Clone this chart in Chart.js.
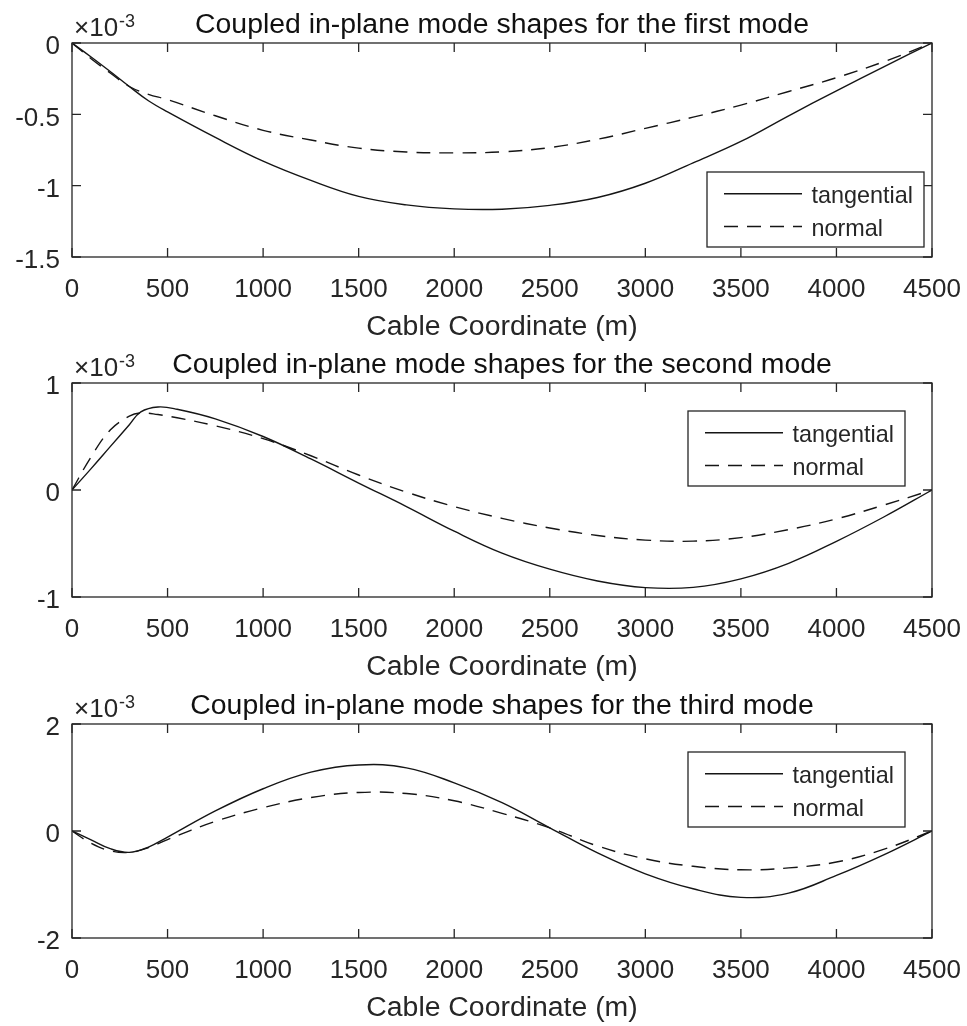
<!DOCTYPE html>
<html>
<head>
<meta charset="utf-8">
<title>Coupled in-plane mode shapes</title>
<script src="https://cdn.jsdelivr.net/npm/chart.js@4.4.1/dist/chart.umd.min.js"></script>
<style>
  html, body { margin: 0; padding: 0; background: #ffffff; }
  body { width: 967px; height: 1026px; position: relative; overflow: hidden; }
  canvas { position: absolute; left: 0; }
</style>
</head>
<body>
<canvas id="mode1" width="967" height="345" style="top:0px"></canvas>
<canvas id="mode2" width="967" height="345" style="top:340px"></canvas>
<canvas id="mode3" width="967" height="345" style="top:681px"></canvas>
<script>
// Cable coordinate samples (m) and mode-shape amplitudes (in units of 1e-3)
const xTicks = [0, 500, 1000, 1500, 2000, 2500, 3000, 3500, 4000, 4500];
const seriesNames = ['tangential', 'normal'];
const xLabel = 'Cable Coordinate (m)';
const exponentLabel = '-3';

// First mode
const x1 = [0, 100, 200, 300, 400, 500, 750, 1000, 1250, 1500, 1750, 2000, 2250, 2500, 2750, 3000, 3250, 3500, 3750, 4000, 4250, 4500];
const tangential1 = [0, -0.098, -0.2, -0.305, -0.405, -0.483, -0.662, -0.828, -0.963, -1.075, -1.135, -1.163, -1.165, -1.138, -1.083, -0.983, -0.84, -0.69, -0.51, -0.335, -0.165, 0];
const normal1 = [0, -0.11, -0.21, -0.305, -0.36, -0.397, -0.51, -0.612, -0.68, -0.737, -0.764, -0.77, -0.763, -0.733, -0.675, -0.598, -0.52, -0.435, -0.34, -0.243, -0.13, 0];
const yTicks1 = [-1.5, -1, -0.5, 0];
const title1 = 'Coupled in-plane mode shapes for the first mode';

// Second mode
const x2 = [0, 100, 200, 300, 360, 450, 550, 750, 1000, 1250, 1500, 1750, 2000, 2250, 2500, 2750, 3000, 3250, 3500, 3750, 4000, 4250, 4500];
const tangential2 = [0, 0.2, 0.405, 0.61, 0.73, 0.776, 0.755, 0.665, 0.5, 0.29, 0.065, -0.155, -0.385, -0.59, -0.74, -0.85, -0.912, -0.91, -0.83, -0.685, -0.48, -0.25, 0];
const normal2 = [0, 0.31, 0.56, 0.69, 0.72, 0.705, 0.675, 0.6, 0.48, 0.32, 0.14, -0.02, -0.155, -0.265, -0.355, -0.425, -0.468, -0.478, -0.445, -0.37, -0.27, -0.14, 0];
const yTicks2 = [-1, 0, 1];
const title2 = 'Coupled in-plane mode shapes for the second mode';

// Third mode
const x3 = [0, 100, 200, 300, 400, 500, 750, 1000, 1250, 1500, 1750, 2000, 2250, 2500, 2750, 3000, 3250, 3500, 3750, 4000, 4250, 4500];
const tangential3 = [0, -0.165, -0.33, -0.4, -0.3, -0.115, 0.375, 0.79, 1.1, 1.235, 1.18, 0.9, 0.53, 0.06, -0.41, -0.8, -1.08, -1.24, -1.16, -0.83, -0.44, 0];
const normal3 = [0, -0.23, -0.37, -0.4, -0.31, -0.16, 0.18, 0.435, 0.625, 0.72, 0.7, 0.565, 0.33, 0.06, -0.28, -0.52, -0.66, -0.725, -0.69, -0.58, -0.34, 0];
const yTicks3 = [-2, 0, 2];
const title3 = 'Coupled in-plane mode shapes for the third mode';

const FONT = "'Liberation Sans', Arial, Helvetica, sans-serif";
const INK = '#262626';
const LINE = '#151515';

// Boxed axes with inward tick marks, title, exponent note and legend
const boxedAxes = {
  id: 'boxedAxes',
  afterDraw(chart, args, opts) {
    const { ctx, chartArea: a, scales: { x, y } } = chart;
    ctx.save();

    // Axes box
    ctx.strokeStyle = INK;
    ctx.lineWidth = 1.3;
    ctx.strokeRect(a.left, a.top, a.right - a.left, a.bottom - a.top);

    // Inward ticks on all four sides
    const L = 9;
    ctx.beginPath();
    x.ticks.forEach(t => {
      const px = x.getPixelForValue(t.value);
      ctx.moveTo(px, a.bottom); ctx.lineTo(px, a.bottom - L);
      ctx.moveTo(px, a.top); ctx.lineTo(px, a.top + L);
    });
    y.ticks.forEach(t => {
      const py = y.getPixelForValue(t.value);
      ctx.moveTo(a.left, py); ctx.lineTo(a.left + L, py);
      ctx.moveTo(a.right, py); ctx.lineTo(a.right - L, py);
    });
    ctx.stroke();

    // Title
    ctx.fillStyle = '#111111';
    ctx.font = `28.4px ${FONT}`;
    ctx.textAlign = 'center';
    ctx.textBaseline = 'alphabetic';
    ctx.fillText(opts.title, (a.left + a.right) / 2, a.top - 10.5);

    // Axis multiplier  x10^-3
    ctx.textAlign = 'left';
    ctx.fillStyle = INK;
    ctx.font = `26px ${FONT}`;
    const base = '\u00d710';
    ctx.fillText(base, a.left + 2, a.top - 7);
    const w = ctx.measureText(base).width;
    ctx.font = `18px ${FONT}`;
    ctx.fillText(opts.exponent, a.left + 2 + w + 1, a.top - 16.5);

    // Legend
    const bw = 217, bh = 75;
    const lg = opts.legend;
    const bx = a.right - lg.right - bw;
    const by = lg.corner === 'se' ? a.bottom - lg.bottom - bh : a.top + lg.top;
    ctx.fillStyle = '#ffffff';
    ctx.fillRect(bx, by, bw, bh);
    ctx.strokeStyle = INK;
    ctx.lineWidth = 1.3;
    ctx.strokeRect(bx, by, bw, bh);
    const rows = [21.8, 54.5];
    chart.data.datasets.forEach((ds, i) => {
      const ly = by + rows[i];
      ctx.save();
      ctx.strokeStyle = ds.borderColor;
      ctx.lineWidth = ds.borderWidth;
      ctx.setLineDash(ds.borderDash || []);
      ctx.beginPath();
      ctx.moveTo(bx + 17, ly);
      ctx.lineTo(bx + 95, ly);
      ctx.stroke();
      ctx.restore();
      ctx.fillStyle = INK;
      ctx.font = `23.4px ${FONT}`;
      ctx.textBaseline = 'alphabetic';
      ctx.fillText(ds.label, bx + 104.5, ly + 9.3);
    });

    ctx.restore();
  }
};

function points(xs, ys) {
  return xs.map((x, i) => ({ x: x, y: ys[i] }));
}

function fmt(v) {
  return String(Math.round(v * 1000) / 1000);
}

function modeChart(id, xs, tang, norm, yTicks, title, legend) {
  const yMin = yTicks[0];
  const yMax = yTicks[yTicks.length - 1];
  const yStep = yTicks[1] - yTicks[0];
  const lineStyle = {
    borderColor: LINE,
    borderWidth: 1.4,
    pointRadius: 0,
    fill: false,
    tension: 0.4
  };
  return new Chart(document.getElementById(id), {
    type: 'line',
    data: {
      datasets: [
        Object.assign({ label: seriesNames[0], data: points(xs, tang) }, lineStyle),
        Object.assign({ label: seriesNames[1], data: points(xs, norm), borderDash: [14, 9] }, lineStyle)
      ]
    },
    options: {
      responsive: false,
      animation: false,
      devicePixelRatio: 1,
      events: [],
      layout: { padding: { left: 0, right: 35, top: 43, bottom: 0 } },
      plugins: {
        legend: { display: false },
        tooltip: { enabled: false },
        title: { display: false },
        boxedAxes: { title: title, exponent: exponentLabel, legend: legend }
      },
      scales: {
        x: {
          type: 'linear',
          min: xTicks[0],
          max: xTicks[xTicks.length - 1],
          afterBuildTicks: s => { s.ticks = xTicks.map(v => ({ value: v })); },
          ticks: {
            autoSkip: false,
            maxRotation: 0,
            padding: 17,
            color: INK,
            font: { family: FONT, size: 26 },
            callback: v => String(v)
          },
          grid: { display: false, drawTicks: false },
          border: { display: false },
          title: {
            display: true,
            text: xLabel,
            color: INK,
            font: { family: FONT, size: 28.4 },
            padding: { top: 0, bottom: 1 }
          },
          afterFit: s => { s.height = 88; s.paddingLeft = 0; s.paddingRight = 0; }
        },
        y: {
          type: 'linear',
          min: yMin,
          max: yMax,
          afterBuildTicks: s => { s.ticks = yTicks.map(v => ({ value: v })); },
          ticks: {
            stepSize: yStep,
            padding: 12,
            labelOffset: 4,
            color: INK,
            font: { family: FONT, size: 26 },
            callback: v => fmt(v)
          },
          grid: { display: false, drawTicks: false },
          border: { display: false },
          afterFit: s => { s.width = 72; s.paddingTop = 0; s.paddingBottom = 0; }
        }
      }
    },
    plugins: [boxedAxes]
  });
}

modeChart('mode1', x1, tangential1, normal1, yTicks1, title1, { corner: 'se', right: 8, bottom: 10 });
modeChart('mode2', x2, tangential2, normal2, yTicks2, title2, { corner: 'ne', right: 27, top: 28 });
modeChart('mode3', x3, tangential3, normal3, yTicks3, title3, { corner: 'ne', right: 27, top: 28 });
</script>
</body>
</html>
